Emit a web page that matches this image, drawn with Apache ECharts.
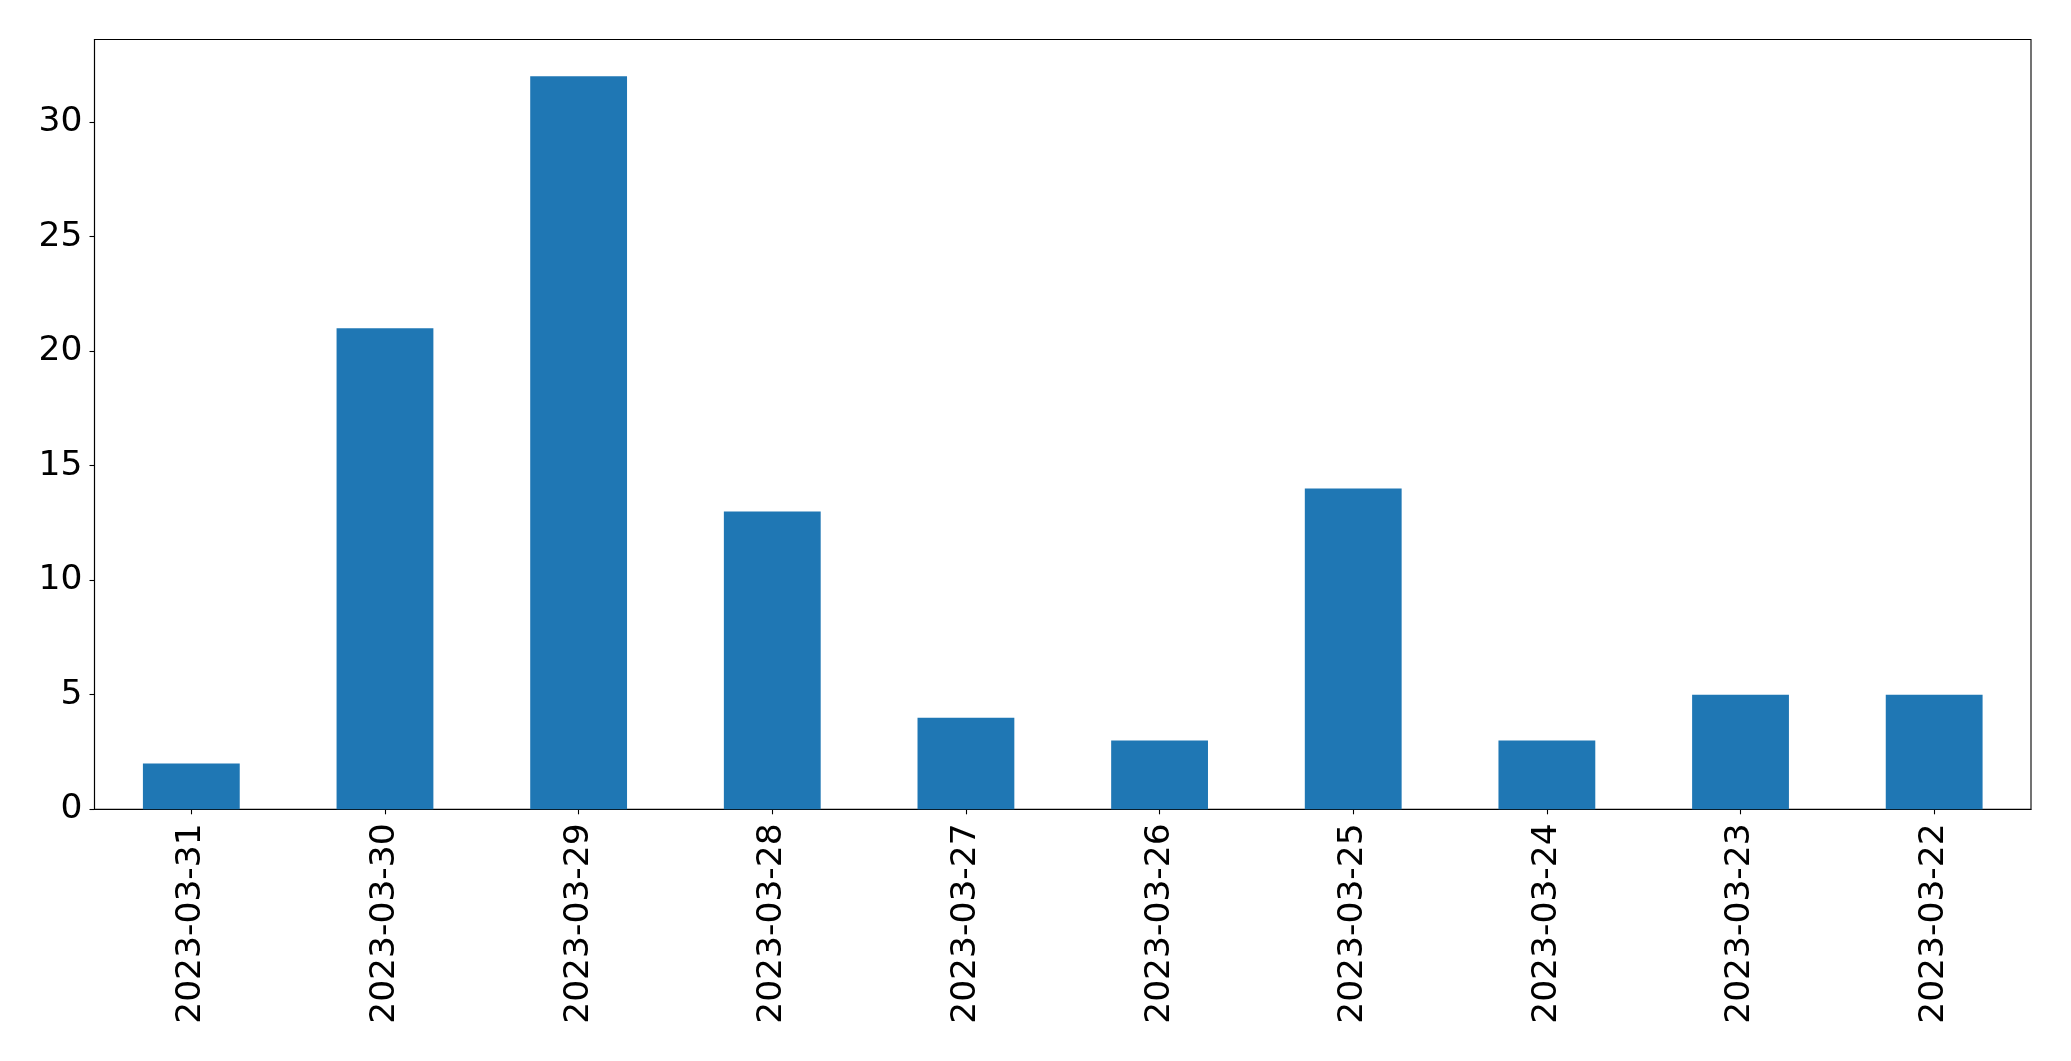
<!DOCTYPE html>
<html><head><meta charset="utf-8">
<script src="https://cdn.jsdelivr.net/npm/echarts@6/dist/echarts.min.js"></script>
<style>html,body{margin:0;padding:0;background:#fff}#c{width:2071px;height:1061px}</style>
</head><body><div id="c"></div>
<script>
const categories = ["2023-03-31","2023-03-30","2023-03-29","2023-03-28","2023-03-27","2023-03-26","2023-03-25","2023-03-24","2023-03-23","2023-03-22"];
const values = [2,21,32,13,4,3,14,3,5,5];
const yTicks = [0,5,10,15,20,25,30];
const yMax = 33.6;

const font = "DejaVu Sans";
const chart = echarts.init(document.getElementById('c'), null, {renderer:'canvas'});
chart.setOption({
  animation:false,
  backgroundColor:'#fff',
  grid:{left:94.5,right:40,top:39.5,bottom:251.7,show:true,borderColor:'#000',borderWidth:1.1,backgroundColor:'transparent'},
  xAxis:{type:'category',data:categories,boundaryGap:true,
    axisLine:{show:true,lineStyle:{color:'#000',width:1.1}},
    axisTick:{show:true,alignWithLabel:true,length:5,lineStyle:{color:'#000',width:1.1}},
    axisLabel:{rotate:90,interval:0,margin:14,fontFamily:font,fontSize:34.5,color:'#000'},
    splitLine:{show:false}},
  yAxis:{type:'value',min:0,max:yMax,interval:5,
    axisLine:{show:true,lineStyle:{color:'#000',width:1.1}},
    axisTick:{show:true,length:5,customValues:yTicks,lineStyle:{color:'#000',width:1.1}},
    axisLabel:{customValues:yTicks,margin:12,fontFamily:font,fontSize:34.5,color:'#000'},
    splitLine:{show:false}},
  series:[{type:'bar',data:values,barWidth:'50%',itemStyle:{color:'#1f77b4'}}]
});
</script></body></html>
